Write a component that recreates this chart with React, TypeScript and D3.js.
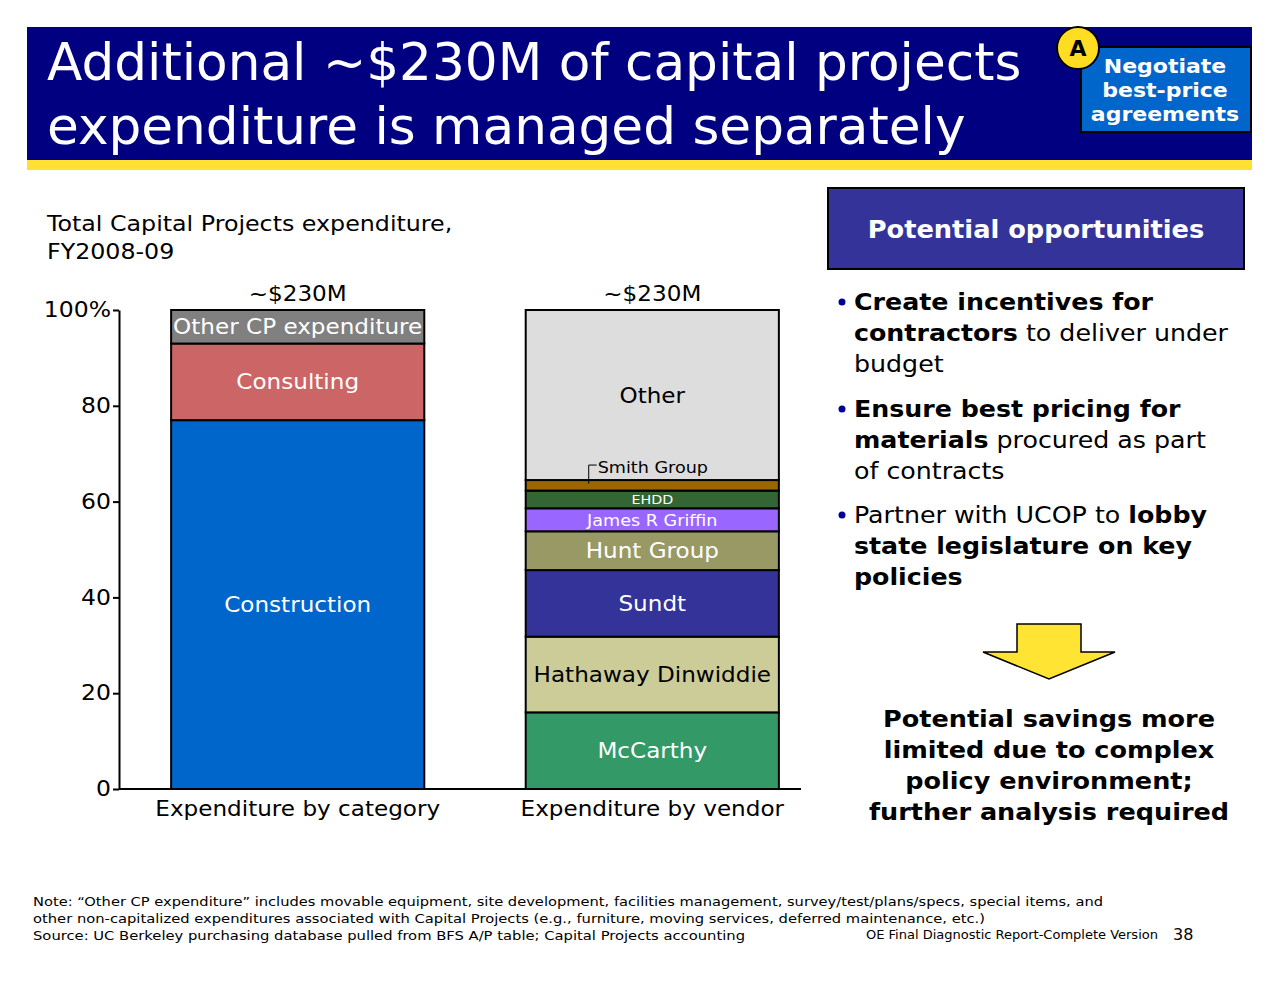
import React, { useEffect, useRef } from "react"
import * as d3 from "d3"

// chart data
const barCategories = ["Expenditure by category", "Expenditure by vendor"]
const barTotals = ["~$230M", "~$230M"]

const categorySegments = ["Construction", "Consulting", "Other CP expenditure"]
const categoryValues = [77, 16, 7]

const vendorSegments = ["McCarthy", "Hathaway Dinwiddie", "Sundt", "Hunt Group", "James R Griffin", "EHDD", "Smith Group", "Other"]
const vendorValues = [16, 15.8, 13.9, 8.1, 4.8, 3.7, 2.2, 35.5]

const yTicks = [0, 20, 40, 60, 80, 100]

const FONT = "'DejaVu Sans', Verdana, sans-serif"
const WIDE = 1.1 // DejaVu is a bit narrower than the Verdana used in the original

interface Segment {
    name: string
    y0: number
    y1: number
    color: string
    textColor: string
    fontSize: number
}

const segColors: Record<string, string> = {
    Construction: "#0066CC",
    Consulting: "#CC6666",
    "Other CP expenditure": "#808080",
    McCarthy: "#339966",
    "Hathaway Dinwiddie": "#CCCC99",
    Sundt: "#333399",
    "Hunt Group": "#999966",
    "James R Griffin": "#9966FF",
    EHDD: "#336633",
    "Smith Group": "#996600",
    Other: "#DDDDDD",
}

const darkText = new Set(["Hathaway Dinwiddie", "Other", "Smith Group"])
const labelSize: Record<string, number> = { "James R Griffin": 16, EHDD: 13 }

const stack = (names: string[], values: number[]): Segment[] => {
    let acc = 0
    return names.map((name, i) => {
        const y0 = acc
        acc += values[i]
        return {
            name,
            y0,
            y1: acc,
            color: segColors[name],
            textColor: darkText.has(name) ? "#000" : "#fff",
            fontSize: labelSize[name] ?? 21,
        }
    })
}

type Run = [string, boolean]
const bullets: Run[][][] = [
    [
        [["Create incentives for", true]],
        [["contractors", true], [" to deliver under", false]],
        [["budget", false]],
    ],
    [
        [["Ensure best pricing for", true]],
        [["materials", true], [" procured as part", false]],
        [["of contracts", false]],
    ],
    [
        [["Partner with UCOP to ", false], ["lobby", true]],
        [["state legislature on key", true]],
        [["policies", true]],
    ],
]

const conclusion = ["Potential savings more", "limited due to complex", "policy environment;", "further analysis required"]

const footnotes = [
    "Note: \u201cOther CP expenditure\u201d includes movable equipment, site development, facilities management, survey/test/plans/specs, special items, and",
    "other non-capitalized expenditures associated with Capital Projects (e.g., furniture, moving services, deferred maintenance, etc.)",
    "Source: UC Berkeley purchasing database pulled from BFS A/P table; Capital Projects accounting",
]
const footnoteWidths = [1070, 952, 712]

// widen a text horizontally around its own x anchor
const stretch = (sel: d3.Selection<any, any, any, any>, k: number) =>
    sel.attr("transform", function () {
        const x = +(this as SVGTextElement).getAttribute("x")! || 0
        return `translate(${x},0) scale(${k},1) translate(${-x},0)`
    })

const App: React.FC = () => {
    const ref = useRef<SVGSVGElement>(null)

    useEffect(() => {
        if (!ref.current) return
        const svg = d3.select(ref.current)
        svg.selectAll("*").remove()

        const label = (x: number, y: number, s: string, size: number, opts: { bold?: boolean; anchor?: string; fill?: string; k?: number } = {}) => {
            const t = svg
                .append("text")
                .attr("x", x)
                .attr("y", y)
                .attr("font-family", FONT)
                .attr("font-size", size)
                .attr("font-weight", opts.bold ? "bold" : "normal")
                .attr("text-anchor", opts.anchor ?? "start")
                .attr("fill", opts.fill ?? "#000")
                .text(s)
            stretch(t, opts.k ?? WIDE)
            return t
        }

        // ---- header
        svg.append("rect").attr("x", 27).attr("y", 27).attr("width", 1225).attr("height", 134).attr("fill", "#000080")
        svg.append("rect").attr("x", 27).attr("y", 160).attr("width", 1225).attr("height", 10).attr("fill", "#FFE033")
        label(47, 80, "Additional ~$230M of capital projects", 51.7, { fill: "#fff", k: 1 })
        label(47, 144, "expenditure is managed separately", 51.7, { fill: "#fff", k: 1 })

        svg.append("rect").attr("x", 1081).attr("y", 47).attr("width", 170).attr("height", 85).attr("fill", "#0066CC").attr("stroke", "#000").attr("stroke-width", 2)
        ;["Negotiate", "best-price", "agreements"].forEach((t, i) => label(1165, 73 + i * 24, t, 20, { bold: true, anchor: "middle", fill: "#fff" }))
        svg.append("circle").attr("cx", 1078).attr("cy", 48).attr("r", 21).attr("fill", "#FFDD22").attr("stroke", "#000").attr("stroke-width", 2)
        label(1078, 56, "A", 22, { bold: true, anchor: "middle", k: 1 })

        // ---- chart
        label(47, 231, "Total Capital Projects expenditure,", 22, { k: 1.08 })
        label(47, 259, "FY2008-09", 22, { k: 1.08 })

        const yScale = d3.scaleLinear().domain([0, 100]).range([789, 310])
        const xScale = d3.scaleBand().domain(barCategories).range([119, 831]).paddingInner(0.286).paddingOuter(0.147)

        const yAxis = svg
            .append("g")
            .attr("transform", "translate(119,0)")
            .call(
                d3
                    .axisLeft(yScale)
                    .tickValues(yTicks)
                    .tickSize(6)
                    .tickSizeOuter(0)
                    .tickFormat((d) => (d === 100 ? "100%" : String(d)))
            )
        yAxis.select(".domain").attr("stroke", "#000").attr("stroke-width", 2)
        yAxis.selectAll(".tick line").attr("stroke", "#000").attr("stroke-width", 2)
        stretch(yAxis.selectAll(".tick text").attr("font-family", FONT).attr("font-size", 21).attr("fill", "#000").attr("x", -8), 1.12)

        const stacks = [stack(categorySegments, categoryValues), stack(vendorSegments, vendorValues)]

        stacks.forEach((segs, bi) => {
            const cat = barCategories[bi]
            const x0 = xScale(cat)!
            const bw = xScale.bandwidth()
            const g = svg.append("g")
            g.selectAll("rect")
                .data(segs)
                .join("rect")
                .attr("x", x0)
                .attr("y", (d) => yScale(d.y1))
                .attr("width", bw)
                .attr("height", (d) => yScale(d.y0) - yScale(d.y1))
                .attr("fill", (d) => d.color)
                .attr("stroke", "#000")
                .attr("stroke-width", 2)

            const segText = g
                .selectAll("text.seg")
                .data(segs.filter((d) => d.name !== "Smith Group"))
                .join("text")
                .attr("class", "seg")
                .attr("x", x0 + bw / 2)
                .attr("y", (d) => (yScale(d.y0) + yScale(d.y1)) / 2)
                .attr("dy", "0.36em")
                .attr("text-anchor", "middle")
                .attr("font-family", FONT)
                .attr("font-size", (d) => d.fontSize)
                .attr("fill", (d) => d.textColor)
                .text((d) => d.name)
            stretch(segText, WIDE)

            // callout label for the thin Smith Group slice
            const smith = segs.find((d) => d.name === "Smith Group")
            if (smith) {
                const ly = yScale(smith.y1) - 15
                const lx = x0 + 63
                g.append("path")
                    .attr("d", `M${lx},${yScale(smith.y0) - 7} V${ly} H${lx + 8}`)
                    .attr("fill", "none")
                    .attr("stroke", "#000")
                    .attr("stroke-width", 1)
                label(lx + 9, ly + 8, "Smith Group", 16)
            }

            label(x0 + bw / 2, 301, barTotals[bi], 21, { anchor: "middle" })
        })

        // x axis
        const xAxis = svg.append("g").attr("transform", "translate(0,789)").call(d3.axisBottom(xScale).tickSize(0).tickSizeOuter(0))
        xAxis.select(".domain").attr("d", "M119,0H801").attr("stroke", "#000").attr("stroke-width", 2)
        xAxis.selectAll(".tick text").attr("font-family", FONT).attr("font-size", 21).attr("fill", "#000").attr("y", 27).attr("dy", null).attr("transform", `scale(${WIDE},1)`)

        // ---- right panel
        svg.append("rect").attr("x", 828).attr("y", 188).attr("width", 416).attr("height", 81).attr("fill", "#333399").attr("stroke", "#000").attr("stroke-width", 2)
        label(1036, 238, "Potential opportunities", 24, { bold: true, anchor: "middle", fill: "#fff", k: 1.07 })

        const lineH = 31
        const bulletTop = [310, 417, 523]
        bullets.forEach((lines, bi) => {
            svg.append("circle").attr("cx", 842).attr("cy", bulletTop[bi] - 8).attr("r", 3.5).attr("fill", "#000099")
            lines.forEach((runs, li) => {
                const t = svg.append("text").attr("x", 854).attr("y", bulletTop[bi] + li * lineH).attr("font-family", FONT).attr("font-size", 23).attr("fill", "#000")
                runs.forEach(([s, b]) => t.append("tspan").attr("font-weight", b ? "bold" : "normal").style("white-space", "pre").text(s))
                stretch(t, 1.1)
            })
        })

        svg.append("path")
            .attr("d", "M1017,624 H1081 V652 H1115 L1049,679 L983,652 H1017 Z")
            .attr("fill", "#FFE433")
            .attr("stroke", "#000")
            .attr("stroke-width", 1.5)

        conclusion.forEach((s, i) => label(1049, 727 + i * 31, s, 23, { bold: true, anchor: "middle", k: 1.11 }))

        // ---- footnotes
        footnotes.forEach((s, i) => {
            svg.append("text")
                .attr("x", 33)
                .attr("y", 906 + i * 17)
                .attr("font-family", "'DejaVu Sans Condensed', sans-serif")
                .attr("font-size", 13)
                .attr("textLength", footnoteWidths[i])
                .attr("lengthAdjust", "spacingAndGlyphs")
                .text(s)
        })
        svg.append("text").attr("x", 866).attr("y", 939).attr("font-family", "'DejaVu Sans Condensed', sans-serif").attr("font-size", 12).attr("textLength", 292).attr("lengthAdjust", "spacingAndGlyphs").text("OE Final Diagnostic Report-Complete Version")
        label(1173, 940, "38", 16, { k: 1 })
    }, [])

    return <svg ref={ref} width={1280} height={990} style={{ position: "absolute", left: 0, top: 0, background: "#fff" }} />
}

export default App
